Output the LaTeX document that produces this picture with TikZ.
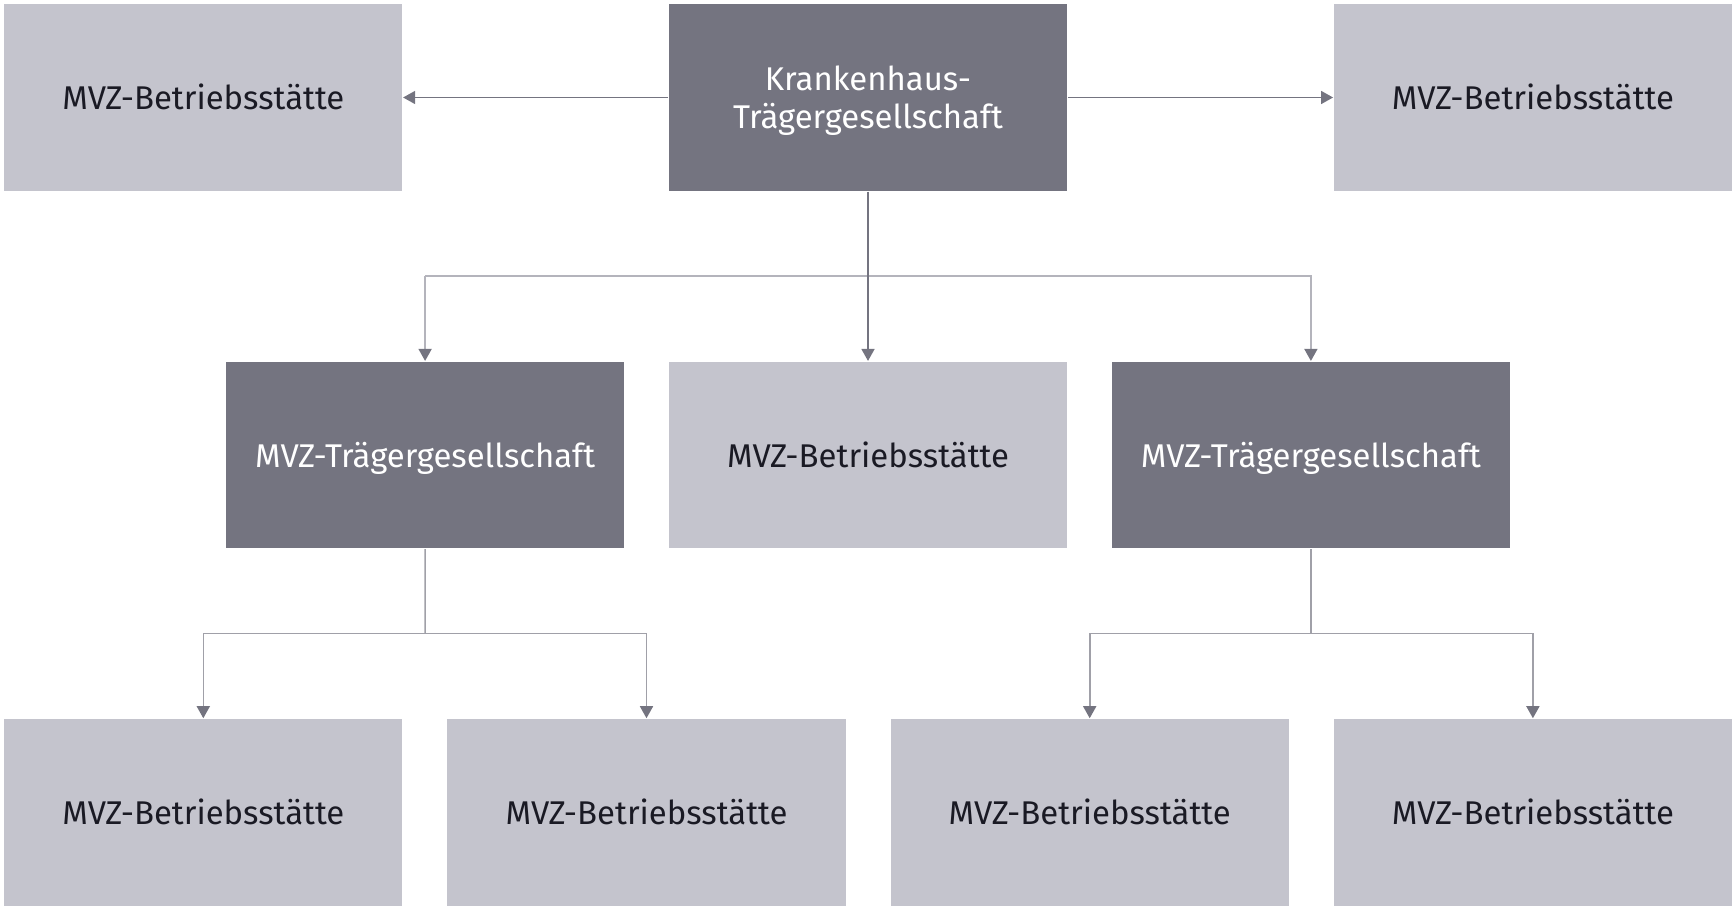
\documentclass[tikz,border=0pt]{standalone}
\usepackage{fontspec}
\setmainfont{Fira Sans}
\usepackage{tikz}
\usetikzlibrary{calc,arrows.meta,positioning}
\definecolor{dark}{HTML}{747480}
\definecolor{light}{HTML}{C4C4CD}
\definecolor{ink}{HTML}{1A1A24}
\definecolor{wire}{HTML}{747480}
\definecolor{wirel}{HTML}{B4B4BC}
\definecolor{wirem}{HTML}{A0A0A8}
\tikzset{
  box/.style={rectangle, inner sep=0pt, minimum width=3.98cm, minimum height=1.866cm,
    align=center, text depth=0pt, font=\fontsize{9.35}{10.9}\selectfont},
  one/.style={text height=0.69em},
  hold/.style={box, fill=dark, text=white},
  site/.style={box, one, fill=light, text=ink},
  arr/.style={draw=wire, line width=0.45pt, -{Triangle[width=1.3mm,length=1.2mm,color=wire]}},
  arrl/.style={arr, draw=wirel},
  arrm/.style={arr, draw=wirem},
  lin/.style={draw=wirem, line width=0.45pt},
}

\begin{document}
\begin{tikzpicture}[x=0.01cm, y=-0.01cm]
  \useasboundingbox (0,0) rectangle (1736,910);
  % top row
  \node[hold] (kh) at (868,97.5) {Krankenhaus-\\Trägergesellschaft};
  \node[site] (bsl) at (203.3,97.5) {MVZ-Betriebsstätte};
  \node[site] (bsr) at (1532.9,97.5) {MVZ-Betriebsstätte};
  % middle row
  \node[hold, one] (tgl) at (425.1,455) {MVZ-Trägergesellschaft};
  \node[site] (bsm) at (868,455) {MVZ-Betriebsstätte};
  \node[hold, one] (tgr) at (1310.9,455) {MVZ-Trägergesellschaft};
  % bottom row
  \foreach \n/\x in {1/203.3,2/646.5,3/1089.7,4/1532.9}
    \node[site] (bs\n) at (\x,812.3) {MVZ-Betriebsstätte};
  % links
  \draw[arr] (kh.west) -- (bsl.east);
  \draw[arr] (kh.east) -- (bsr.west);
  \coordinate (ja) at ($(kh.south)!0.5!(bsm.north)$);
  \draw[arrl] (ja -| tgl) -| (tgl.north);
  \draw[arrl] (ja) -| (tgr.north);
  \draw[lin, draw=wirel] (ja -| tgl) -- (ja);
  \draw[arr] (kh.south) -- (bsm.north);
  \coordinate (jb) at ($(tgl.south)!0.5!(tgl.south |- bs1.north)$);
  \coordinate (jc) at ($(tgr.south)!0.5!(tgr.south |- bs4.north)$);
  \draw[lin] (tgl.south) -- (jb);
  \draw[lin] (tgr.south) -- (jc);
  \draw[arrm] (jb) -| (bs1.north);
  \draw[arrm] (jb) -| (bs2.north);
  \draw[arrm] (jc) -| (bs3.north);
  \draw[arrm] (jc) -| (bs4.north);
\end{tikzpicture}
\end{document}
